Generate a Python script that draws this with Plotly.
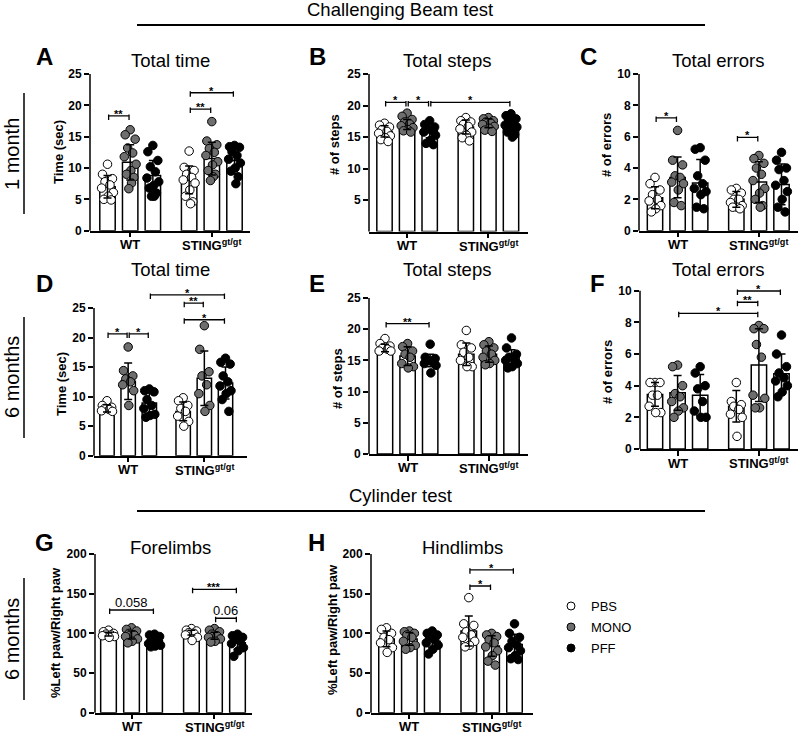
import plotly.graph_objects as go

W, H = 800, 734
FONT = "Arial, Liberation Sans, Helvetica, sans-serif"
group_labels = ["<b>WT</b>", "<b>STING<sup>gt/gt</sup></b>"]
treatments = ["PBS", "MONO", "PFF"]
fill_colors = ["white", "#6e6e6e", "black"]

# order of bars: WT-PBS, WT-MONO, WT-PFF, STING-PBS, STING-MONO, STING-PFF
# ---------- Panel A : 1 month, total time ----------
A_mean = [7.0, 10.9, 8.8, 8.1, 11.5, 11.2]
A_sd = [1.8, 2.8, 2.4, 2.2, 2.6, 2.1]
A_pts = [
    [10.6, 9.0, 8.3, 7.8, 7.3, 6.8, 6.1, 5.5, 5.0, 4.9],
    [16.1, 15.3, 14.6, 13.2, 12.4, 11.8, 10.6, 9.6, 9.0, 8.5, 7.6, 6.7],
    [13.6, 12.6, 11.2, 10.2, 9.4, 8.4, 7.8, 7.2, 6.8, 6.0, 5.5, 5.5],
    [12.7, 10.1, 9.6, 9.0, 8.5, 8.1, 7.6, 6.5, 5.5, 4.6, 4.3],
    [17.4, 14.3, 13.7, 13.1, 12.5, 12.0, 11.0, 10.5, 9.6, 9.0, 8.6, 8.0],
    [13.6, 13.4, 13.3, 12.6, 12.0, 11.4, 10.8, 10.0, 9.5, 8.6, 7.5],
]
A_sig = [(0, 1, 18.3, "**"), (3, 4, 19.4, "**"), (3, 5, 22.0, "*")]

# ---------- Panel B : 1 month, total steps ----------
B_mean = [15.9, 17.0, 16.0, 16.6, 17.2, 17.0]
B_sd = [0.9, 0.8, 1.1, 1.1, 0.7, 1.1]
B_pts = [
    [17.2, 16.9, 16.6, 16.2, 15.9, 15.6, 15.2, 14.9, 14.6, 14.3],
    [18.8, 18.3, 17.8, 17.4, 17.1, 16.8, 16.5, 16.2, 16.0, 15.8],
    [17.6, 17.0, 16.6, 16.3, 16.0, 15.8, 15.3, 14.5, 14.0, 13.8],
    [18.1, 17.6, 17.4, 17.0, 16.7, 16.3, 15.8, 15.3, 14.9, 14.4],
    [18.1, 17.9, 17.6, 17.4, 17.2, 17.0, 16.7, 16.4, 16.1, 15.9],
    [18.7, 18.4, 17.9, 17.5, 17.2, 16.9, 16.6, 16.2, 15.8, 15.4, 15.0],
]
B_sig = [(0, 1, 20.5, "*"), (1, 2, 20.5, "*"), (2, 5, 20.5, "*")]

# ---------- Panel C : 1 month, total errors ----------
C_mean = [2.1, 3.4, 3.05, 2.0, 3.1, 2.95]
C_sd = [0.7, 1.3, 1.5, 0.5, 1.3, 1.3]
C_pts = [
    [3.4, 3.0, 2.6, 2.3, 2.0, 1.9, 1.6, 1.4, 1.2],
    [6.4, 4.5, 4.2, 3.5, 3.4, 3.1, 3.0, 2.6, 1.8, 1.6],
    [5.3, 5.2, 4.5, 3.5, 3.0, 2.7, 2.5, 2.3, 1.5, 1.4],
    [2.7, 2.6, 2.4, 2.0, 2.0, 1.8, 1.6, 1.5, 1.5, 1.4],
    [4.8, 4.6, 4.3, 4.0, 3.6, 3.2, 2.7, 2.4, 2.0, 1.6, 1.5],
    [5.0, 4.5, 4.0, 3.9, 3.2, 2.9, 2.5, 2.0, 1.5, 1.2],
]
C_sig = [(0, 1, 7.2, "*"), (3, 4, 5.95, "*")]

# ---------- Panel D : 6 months, total time ----------
D_mean = [8.0, 12.6, 8.9, 7.5, 13.1, 12.3]
D_sd = [0.6, 3.1, 1.7, 1.6, 4.6, 2.7]
D_pts = [
    [9.3, 8.5, 8.2, 8.0, 7.8, 7.6, 7.5],
    [18.4, 14.4, 13.5, 13.0, 12.5, 12.0, 11.0, 8.5],
    [11.3, 11.0, 10.8, 9.5, 8.5, 8.0, 7.0, 6.8, 6.5],
    [9.8, 9.3, 8.5, 8.0, 7.5, 6.7, 5.8, 5.0],
    [22.0, 18.0, 14.2, 13.5, 12.0, 10.5, 8.5, 7.5],
    [16.5, 15.8, 15.5, 13.5, 12.5, 11.8, 11.0, 10.5, 9.5, 7.5],
]
D_sig = [(0, 1, 20.6, "*"), (1, 2, 20.6, "*"), (3, 4, 25.8, "**"), (3, 5, 23.0, "*"), (2, 5, 27.2, "*")]

# ---------- Panel E : 6 months, total steps ----------
E_mean = [17.0, 15.7, 15.0, 16.0, 16.0, 15.5]
E_sd = [0.6, 1.5, 1.0, 1.8, 1.3, 1.2]
E_pts = [
    [18.5, 17.7, 17.3, 17.0, 16.8, 16.5, 16.5],
    [17.7, 17.2, 16.5, 16.0, 15.5, 14.5, 14.0, 13.8],
    [17.6, 15.5, 15.3, 15.0, 14.8, 14.5, 14.2, 13.0],
    [19.8, 17.5, 17.0, 16.3, 15.5, 15.0, 14.0, 14.0],
    [18.0, 17.5, 17.0, 16.5, 16.0, 15.5, 15.0, 14.5, 14.3],
    [18.6, 17.0, 16.0, 15.5, 15.3, 15.0, 14.5, 14.0, 13.8],
]
E_sig = [(0, 2, 20.9, "**")]

# ---------- Panel F : 6 months, total errors ----------
F_mean = [3.45, 3.55, 3.4, 2.7, 5.3, 4.75]
F_sd = [0.75, 1.1, 1.3, 1.0, 2.3, 1.25]
F_pts = [
    [4.2, 4.2, 4.2, 3.4, 3.4, 2.7, 2.3, 2.3],
    [5.3, 5.2, 4.0, 3.5, 3.3, 3.0, 2.6, 2.4, 2.0],
    [5.2, 4.8, 4.0, 3.8, 3.0, 2.4, 2.0, 2.0],
    [4.2, 3.0, 2.8, 2.7, 2.5, 2.2, 2.0, 0.8],
    [7.8, 7.6, 7.6, 6.6, 5.8, 3.4, 3.2, 2.6, 2.6],
    [7.2, 6.0, 5.2, 4.8, 4.5, 4.3, 4.0, 3.6, 3.3],
]
F_sig = [(1, 4, 8.57, "*"), (3, 4, 9.27, "**"), (3, 5, 9.98, "*")]

# ---------- Panel G : cylinder, forelimbs ----------
G_mean = [99, 98, 91, 101, 97, 88]
G_sd = [2.5, 5, 5.5, 3, 4.5, 8]
G_pts = [
    [104, 102, 100, 99, 98, 97, 96, 95],
    [107, 105, 103, 100, 98, 96, 93, 90, 88],
    [99, 98, 96, 93, 90, 87, 85, 84, 83],
    [106, 104, 103, 101, 100, 98, 95, 91],
    [106, 104, 102, 99, 97, 95, 93, 90, 89],
    [99, 97, 95, 93, 90, 87, 82, 78, 71],
]
G_sig = [(0, 2, 129.4, "0.058"), (4, 5, 119.0, "0.06"), (3, 5, 155.5, "***")]

# ---------- Panel H : cylinder, hindlimbs ----------
H_mean = [93, 93, 90, 103, 84, 86]
H_sd = [10, 8, 8, 19, 13, 13]
H_pts = [
    [107, 105, 100, 95, 92, 88, 82, 76],
    [103, 102, 100, 98, 95, 90, 85, 82, 80],
    [103, 100, 98, 95, 92, 88, 85, 80, 74],
    [145, 112, 110, 102, 98, 95, 90, 85, 83],
    [100, 98, 96, 92, 88, 83, 78, 72, 65, 60],
    [112, 100, 95, 90, 85, 82, 78, 72, 68, 67],
]
H_sig = [(3, 4, 159.7, "*"), (3, 5, 180.0, "*")]

ytitle_time = "<b>Time (sec)</b>"
ytitle_steps = "<b># of steps</b>"
ytitle_err = "<b># of errors</b>"
ytitle_paw = "<b>%Left paw/Right paw</b>"

# layout geometry (pixels): L,R x-axis span; c0,cl first/last bar centre; y0 zero px; sc px per unit
panels = [
    dict(letter="A", title="Total time", ytitle=ytitle_time, mean=A_mean, sd=A_sd, pts=A_pts, sig=A_sig,
         L=90, R=250, c0=107.5, cl=234.5, y0=230.7, sc=6.27, ticks=[0, 5, 10, 15, 20, 25], top=25, ext=25.6,
         lx=44, ly=57, tx=170, ty=61, ytx=59, yty=152),
    dict(letter="B", title="Total steps", ytitle=ytitle_steps, mean=B_mean, sd=B_sd, pts=B_pts, sig=B_sig,
         L=369, R=528, c0=384.5, cl=511, y0=231.6, sc=6.3, ticks=[5, 10, 15, 20, 25], top=25, ext=25.6,
         lx=317, ly=57, tx=447, ty=61, ytx=335, yty=145),
    dict(letter="C", title="Total errors", ytitle=ytitle_err, mean=C_mean, sd=C_sd, pts=C_pts, sig=C_sig,
         L=639, R=798, c0=655, cl=781.5, y0=230.7, sc=15.67, ticks=[0, 2, 4, 6, 8, 10], top=10, ext=10.3,
         lx=588, ly=57, tx=718, ty=61, ytx=607, yty=145),
    dict(letter="D", title="Total time", ytitle=ytitle_time, mean=D_mean, sd=D_sd, pts=D_pts, sig=D_sig,
         L=94, R=247, c0=107, cl=225.5, y0=455.7, sc=5.91, ticks=[0, 5, 10, 15, 20, 25], top=25, ext=29,
         lx=44, ly=283, tx=170, ty=269, ytx=62, yty=384),
    dict(letter="E", title="Total steps", ytitle=ytitle_steps, mean=E_mean, sd=E_sd, pts=E_pts, sig=E_sig,
         L=369, R=528, c0=385, cl=511.5, y0=454, sc=6.24, ticks=[0, 5, 10, 15, 20, 25], top=25, ext=25.6,
         lx=317, ly=284, tx=447, ty=269, ytx=337, yty=379),
    dict(letter="F", title="Total errors", ytitle=ytitle_err, mean=F_mean, sd=F_sd, pts=F_pts, sig=F_sig,
         L=640, R=798, c0=655, cl=781.5, y0=449, sc=15.83, ticks=[0, 2, 4, 6, 8, 10], top=10, ext=10.6,
         lx=597, ly=284, tx=718, ty=269, ytx=607, yty=372),
    dict(letter="G", title="Forelimbs", ytitle=ytitle_paw, mean=G_mean, sd=G_sd, pts=G_pts, sig=G_sig,
         L=95, R=252, c0=108.5, cl=237.5, y0=712.7, sc=0.7935, ticks=[0, 50, 100, 150, 200], top=200, ext=205,
         lx=44, ly=542, tx=170, ty=547, ytx=55, yty=633),
    dict(letter="H", title="Hindlimbs", ytitle=ytitle_paw, mean=H_mean, sd=H_sd, pts=H_pts, sig=H_sig,
         L=371, R=533, c0=386.5, cl=514.5, y0=712.7, sc=0.7935, ticks=[0, 50, 100, 150, 200], top=200, ext=205,
         lx=316, ly=542, tx=462, ty=547, ytx=332, yty=630),
]

positions = [0, 1, 2, 3.6, 4.6, 5.6]
group_centres = [1, 4.6]
jitter = [0.0, -0.22, 0.22, -0.11, 0.11, -0.26, 0.26, 0.03, -0.16, 0.16, 0.06, -0.06]
BAR_W = 0.68


def px(xp):
    return xp / W


def py(yp):
    return 1 - yp / H


def ann(x, y, text, size, **kw):
    d = dict(x=px(x), y=py(y), xref="paper", yref="paper", showarrow=False, text=text,
             xanchor="center", yanchor="middle", font=dict(family=FONT, size=size, color="black"))
    d.update(kw)
    return d


fig = go.Figure()
shapes = []
annotations = []
layout_axes = {}

for k, p in enumerate(panels, start=1):
    xa = "x" if k == 1 else f"x{k}"
    ya = "y" if k == 1 else f"y{k}"
    u = (p["cl"] - p["c0"]) / positions[-1]
    xr = [(p["L"] - p["c0"]) / u, (p["R"] - p["c0"]) / u]
    ytop_px = p["y0"] - p["ext"] * p["sc"]
    layout_axes["xaxis" if k == 1 else f"xaxis{k}"] = dict(
        domain=[px(p["L"]), px(p["R"])], range=xr, anchor=ya, showgrid=False, zeroline=False,
        showline=True, linecolor="black", linewidth=1.5, ticks="outside", ticklen=5, tickwidth=1.5,
        tickcolor="black", tickvals=group_centres, showticklabels=False, automargin=False, fixedrange=True)
    layout_axes["yaxis" if k == 1 else f"yaxis{k}"] = dict(
        domain=[py(p["y0"]), py(ytop_px)], range=[0, p["ext"]], anchor=xa, showgrid=False,
        zeroline=False, showline=False, ticks="outside", ticklen=5, tickwidth=1.5, tickcolor="black",
        tickvals=p["ticks"], ticktext=[f"<b>{t}</b>" for t in p["ticks"]], automargin=False,
        tickfont=dict(family=FONT, size=12, color="black"), fixedrange=True)
    # y axis line
    shapes.append(dict(type="line", xref="paper", yref="paper", x0=px(p["L"]), x1=px(p["L"]),
                       y0=py(p["y0"]), y1=py(p["y0"] - p["top"] * p["sc"]),
                       line=dict(color="black", width=1.5)))
    # group labels under the x axis
    for gc, gl in zip(group_centres, group_labels):
        annotations.append(dict(x=gc, y=0, xref=xa, yref=ya, showarrow=False, text=gl,
                                xanchor="center", yanchor="middle", yshift=-14,
                                font=dict(family=FONT, size=13, color="black")))
    # bars
    fig.add_trace(go.Bar(x=positions, y=p["mean"], width=BAR_W, xaxis=xa, yaxis=ya,
                         marker=dict(color="white", line=dict(color="black", width=1.5)),
                         showlegend=False, hoverinfo="skip"))
    # points
    for t in range(3):
        xs, ys = [], []
        for gi in (t, t + 3):
            vals = p["pts"][gi]
            for j, v in enumerate(vals):
                xs.append(positions[gi] + jitter[j % len(jitter)])
                ys.append(v)
        fig.add_trace(go.Scatter(x=xs, y=ys, mode="markers", xaxis=xa, yaxis=ya, showlegend=False,
                                 marker=dict(size=8.5, color=fill_colors[t],
                                             line=dict(color="black", width=1)),
                                 cliponaxis=False, hoverinfo="skip"))
    # error bars (mean +/- SD), drawn above the points
    fig.add_trace(go.Scatter(x=positions, y=p["mean"], mode="markers", xaxis=xa, yaxis=ya,
                             showlegend=False, marker=dict(size=1, color="rgba(0,0,0,0)"),
                             error_y=dict(type="data", array=p["sd"], visible=True, color="black",
                                          thickness=1.5, width=4), hoverinfo="skip"))
    # significance brackets
    dn = 4 / p["sc"]
    up = 1.5 / p["sc"]
    for (i, j, yv, lab) in p["sig"]:
        x0 = positions[i] + 0.05
        x1 = positions[j] - 0.05
        for seg in [(x0, yv, x1, yv), (x0, yv - dn, x0, yv + up), (x1, yv - dn, x1, yv + up)]:
            shapes.append(dict(type="line", xref=xa, yref=ya, x0=seg[0], y0=seg[1], x1=seg[2], y1=seg[3],
                               line=dict(color="black", width=1.3)))
        is_num = lab[0].isdigit()
        annotations.append(dict(x=(x0 + x1) / 2, y=yv, xref=xa, yref=ya, showarrow=False,
                                text=lab if is_num else f"<b>{lab}</b>", xanchor="center", yanchor="bottom",
                                yshift=-2 if is_num else -6,
                                font=dict(family=FONT, size=13 if is_num else 11, color="black")))
    # panel letter, title, y title
    annotations.append(ann(p["lx"], p["ly"], f"<b>{p['letter']}</b>", 24))
    annotations.append(ann(p["tx"], p["ty"], p["title"], 18.5))
    annotations.append(ann(p["ytx"], p["yty"], p["ytitle"], 13, textangle=-90))

# section headers
for text, yt, yl in [("Challenging Beam test", 10, 25), ("Cylinder test", 495, 511)]:
    annotations.append(ann(400, yt, text, 18.5))
    shapes.append(dict(type="line", xref="paper", yref="paper", x0=px(137), x1=px(705), y0=py(yl), y1=py(yl),
                       line=dict(color="black", width=2)))

# row labels
for text, yc, ya0, ya1, xc in [("1 month", 154, 93, 214, 12), ("6 months", 377, 317, 438, 12),
                               ("6 months", 639, 578, 700, 12)]:
    annotations.append(ann(xc, yc, text, 20, textangle=-90))
    shapes.append(dict(type="line", xref="paper", yref="paper", x0=px(24), x1=px(24), y0=py(ya0), y1=py(ya1),
                       line=dict(color="black", width=1.5)))

# legend
for t, yc in zip(range(3), [606, 627, 648]):
    r = 4
    shapes.append(dict(type="circle", xref="paper", yref="paper", x0=px(571 - r), x1=px(571 + r),
                       y0=py(yc + r), y1=py(yc - r), fillcolor=fill_colors[t],
                       line=dict(color="black", width=1)))
    annotations.append(ann(589, yc, treatments[t], 13, xanchor="left"))

fig.update_layout(width=W, height=H, margin=dict(l=0, r=0, t=0, b=0, autoexpand=False),
                  paper_bgcolor="white", plot_bgcolor="rgba(0,0,0,0)", showlegend=False,
                  shapes=shapes, annotations=annotations, **layout_axes)
fig.write_html("out.html")
